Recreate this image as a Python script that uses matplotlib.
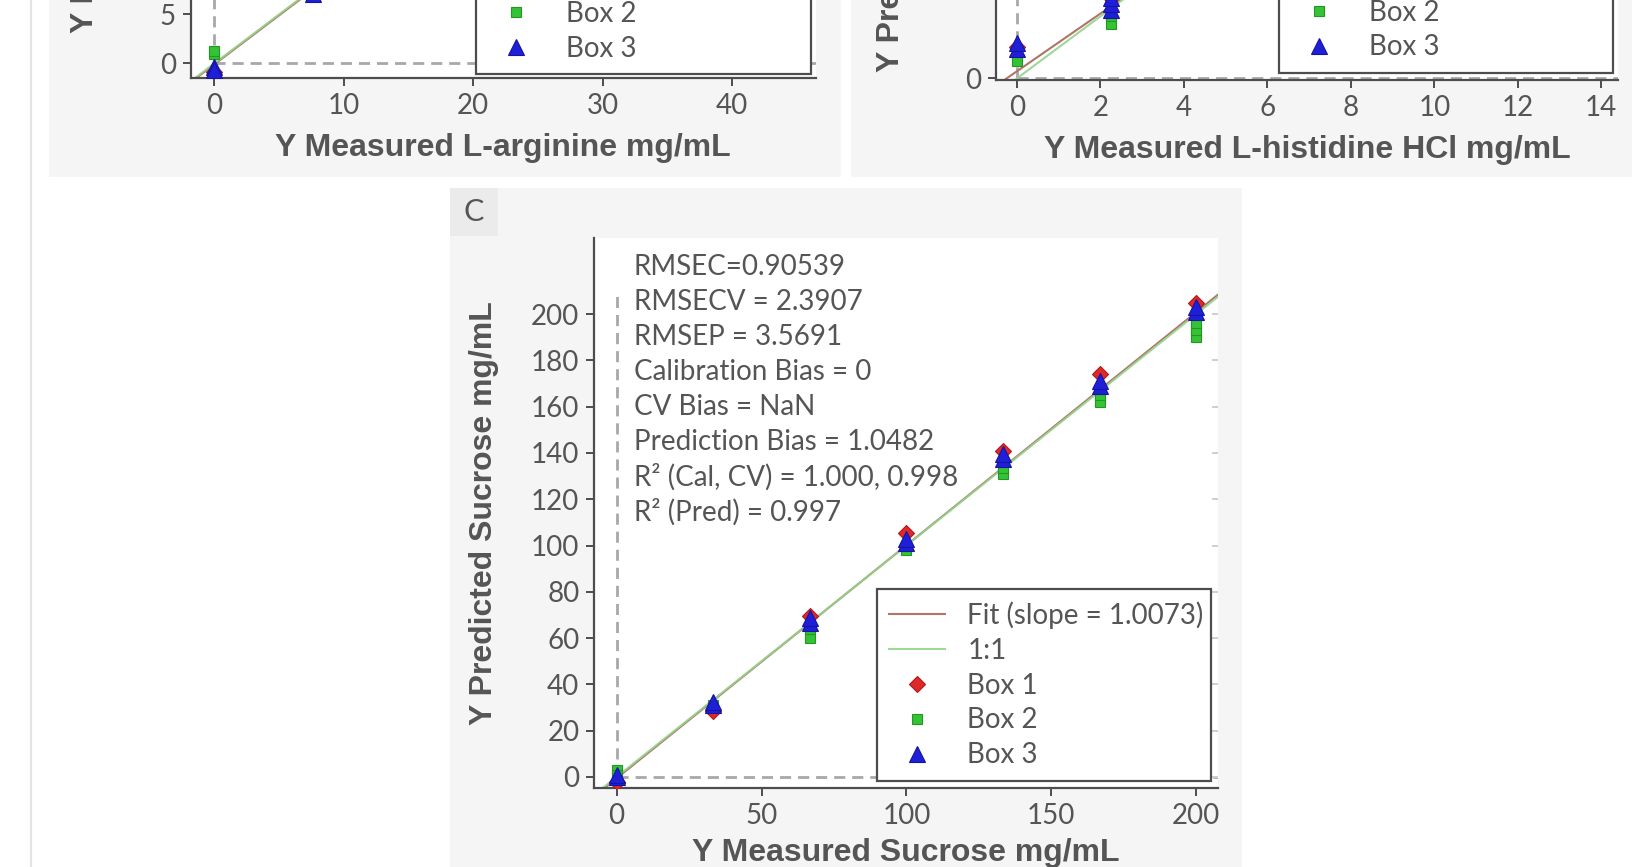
import matplotlib
matplotlib.use("Agg")
import matplotlib.pyplot as plt
from matplotlib.patches import Rectangle
from matplotlib.lines import Line2D, TICKLEFT

W, H = 1632, 867

LIGHT = ["Lato", "DejaVu Sans"]
BOLD = ["Liberation Sans", "DejaVu Sans"]
TEXT = "#555555"
SPINE = "#4d4d4d"
PANEL = "#f5f5f5"
LABEL_BOX = "#ebebeb"
DASH = "#a8a8a8"
FIT_C = "#b07468"
ONE_C = "#94d48c"
RED = "#e02828"
GREEN = "#36c236"
BLUE = "#1f1fd8"

# ---- panel C: sucrose ----
SUC_BOX1_X = [0, 33.3, 66.7, 100, 133.3, 166.7, 200]
SUC_BOX1_Y = [-2.0, 28.5, 69.5, 105.5, 141.0, 174.0, 205.0]
SUC_BOX2_X = [0, 0, 33.3, 66.7, 66.7, 100, 100, 133.3, 133.3, 166.7, 166.7, 200, 200, 200]
SUC_BOX2_Y = [3.0, 1.0, 31.0, 60.0, 64.0, 98.0, 100.0, 131.0, 133.5, 162.0, 165.0, 190.0, 193.0, 196.0]
SUC_BOX3_X = [0, 0, 33.3, 33.3, 66.7, 66.7, 100, 100, 133.3, 133.3, 166.7, 166.7, 200, 200]
SUC_BOX3_Y = [0.0, 1.0, 31.0, 32.5, 66.5, 68.5, 101.0, 103.0, 137.5, 139.5, 169.0, 171.0, 201.0, 203.0]
SUC_SLOPE = 1.0073
SUC_INTERCEPT = -0.6
SUC_DASH_END = 208
SUC_STATS = [
    "RMSEC=0.90539",
    "RMSECV = 2.3907",
    "RMSEP = 3.5691",
    "Calibration Bias = 0",
    "CV Bias = NaN",
    "Prediction Bias = 1.0482",
    "R² (Cal, CV) = 1.000, 0.998",
    "R² (Pred) = 0.997",
]

# ---- panel A: L-arginine (top left, cropped) ----
ARG_BOX1_X = [0, 7.6]
ARG_BOX1_Y = [-0.9, 7.5]
ARG_BOX2_X = [0, 0]
ARG_BOX2_Y = [0.9, 1.3]
ARG_BOX3_X = [0, 0, 7.6]
ARG_BOX3_Y = [-0.4, -0.7, 7.1]
ARG_SLOPE = 1.0
ARG_INTERCEPT = -0.1
ARG_DASH_END = 47

# ---- panel B: L-histidine HCl (top right, cropped) ----
HIS_BOX1_X = [0, 2.25]
HIS_BOX1_Y = [1.0, 2.6]
HIS_BOX2_X = [0, 2.25, 2.25]
HIS_BOX2_Y = [0.55, 1.75, 2.0]
HIS_BOX3_X = [0, 0, 2.25, 2.25, 2.25]
HIS_BOX3_Y = [0.95, 1.15, 2.2, 2.4, 2.6]
HIS_SLOPE = 0.93
HIS_INTERCEPT = 0.23
HIS_DASH_END = 15


def px_rect(x0, y0, x1, y1):
    """pixel box (y measured from the top) -> figure fraction rect"""
    return [x0 / W, 1 - y1 / H, (x1 - x0) / W, (y1 - y0) / H]


def style_axes(ax):
    for side in ("top", "right"):
        ax.spines[side].set_visible(False)
    for side in ("left", "bottom"):
        ax.spines[side].set_color(SPINE)
        ax.spines[side].set_linewidth(1.6)
    ax.tick_params(length=5.5, width=1.4, color=SPINE, labelcolor=TEXT,
                   labelsize=20, pad=5)
    for lab in ax.get_xticklabels() + ax.get_yticklabels():
        lab.set_family(LIGHT)
    ax.set_facecolor("white")


def draw_points(ax, b1, b2, b3):
    ax.plot(*b1, ls="none", marker="D", ms=8, mfc=RED, mec="#b01818", mew=0.8,
            label="Box 1", zorder=4)
    ax.plot(*b2, ls="none", marker="s", ms=7.5, mfc=GREEN, mec="#1f9a1f", mew=0.8,
            label="Box 2", zorder=4)
    ax.plot(*b3, ls="none", marker="^", ms=11.5, mfc=BLUE, mec="#1414a0", mew=0.8,
            label="Box 3", zorder=5)


def draw_lines(ax, slope, intercept, dash_end, fit_label=None):
    ax.plot([0, 0], [0, dash_end], ls=(0, (4, 2.5)), color=DASH, lw=2, zorder=1)
    ax.plot([0, dash_end], [0, 0], ls=(0, (4, 2.5)), color=DASH, lw=2, zorder=1)
    ax.axline((0, intercept), slope=slope, color=FIT_C, lw=1.5, zorder=2,
              label=fit_label)
    ax.axline((0, 0), slope=1, color=ONE_C, lw=1.5, zorder=2, alpha=0.9,
              label="1:1" if fit_label else None)


def legend(ax, x0, y0, w):
    leg = ax.legend(loc="lower left", bbox_to_anchor=(x0, y0, w, 0.1),
                    mode="expand", fancybox=False, framealpha=1,
                    edgecolor=SPINE, prop={"family": LIGHT, "size": 20},
                    labelspacing=0.32, handlelength=2.0, handletextpad=0.8,
                    borderpad=0.45, borderaxespad=0, handleheight=0.7)
    leg.get_frame().set_linewidth(1.6)
    for t in leg.get_texts():
        t.set_color(TEXT)
    leg.set_zorder(10)
    return leg


fig = plt.figure(figsize=(W / 100, H / 100), dpi=100)
fig.patch.set_facecolor("white")

# panel backgrounds
for box, col in [((49, 0, 841, 177), PANEL), ((851, 0, W, 177), PANEL),
                 ((450, 188, 1242, H), PANEL), ((450, 188, 498, 236), LABEL_BOX)]:
    x, y, w, h = px_rect(*box)
    fig.add_artist(Rectangle((x, y), w, h, transform=fig.transFigure,
                             facecolor=col, edgecolor="none", zorder=0))
fig.add_artist(Line2D([31 / W, 31 / W], [0, 1], transform=fig.transFigure,
                      color="#e4e4e4", lw=1.5))
fig.text(474 / W, 1 - 212 / H, "C", ha="center", va="center", fontsize=22,
         color=TEXT, family=LIGHT)

# ---- top left ----
ax_a = fig.add_axes(px_rect(190.5, -397, 816, 78))
draw_lines(ax_a, ARG_SLOPE, ARG_INTERCEPT, ARG_DASH_END)
draw_points(ax_a, (ARG_BOX1_X, ARG_BOX1_Y), (ARG_BOX2_X, ARG_BOX2_Y), (ARG_BOX3_X, ARG_BOX3_Y))
ax_a.set_xlim(-1.85, 46.5)
ax_a.set_ylim(-1.5, 47)
ax_a.set_xticks([0, 10, 20, 30, 40])
ax_a.set_yticks([0, 5, 10, 15, 20, 25, 30, 35, 40, 45])
style_axes(ax_a)
legend(ax_a, 0.4564, 0.0084, 0.5356)
ax_a.set_xlabel("Y Measured L-arginine mg/mL", family=BOLD, fontweight="bold",
                fontsize=23, color=TEXT)
ax_a.xaxis.set_label_coords(0.5, -55 / 475)
fig.text(85 / W, 1 - 33 / H, "Y Predicted L-arginine mg/mL", rotation=90,
         ha="center", va="bottom", family=BOLD, fontweight="bold", fontsize=23,
         color=TEXT)

# ---- top right ----
ax_b = fig.add_axes(px_rect(996, -387, 1618, 80))
draw_lines(ax_b, HIS_SLOPE, HIS_INTERCEPT, HIS_DASH_END)
draw_points(ax_b, (HIS_BOX1_X, HIS_BOX1_Y), (HIS_BOX2_X, HIS_BOX2_Y), (HIS_BOX3_X, HIS_BOX3_Y))
ax_b.set_xlim(-0.5, 14.4)
ax_b.set_ylim(-0.05, 15)
ax_b.set_xticks(range(0, 15, 2))
ax_b.set_yticks([0, 5, 10, 15])
style_axes(ax_b)
legend(ax_b, 0.455, 0.015, 0.537)
ax_b.set_xlabel("Y Measured L-histidine HCl mg/mL", family=BOLD, fontweight="bold",
                fontsize=23, color=TEXT)
ax_b.xaxis.set_label_coords(0.5, -55 / 467)
fig.text(891 / W, 1 - 72 / H, "Y Predicted L-histidine HCl mg/mL", rotation=90,
         ha="center", va="bottom", family=BOLD, fontweight="bold", fontsize=23,
         color=TEXT)

# ---- panel C ----
ax = fig.add_axes(px_rect(594, 238, 1218, 788))
draw_lines(ax, SUC_SLOPE, SUC_INTERCEPT, SUC_DASH_END,
           fit_label=f"Fit (slope = {SUC_SLOPE})")
draw_points(ax, (SUC_BOX1_X, SUC_BOX1_Y), (SUC_BOX2_X, SUC_BOX2_Y), (SUC_BOX3_X, SUC_BOX3_Y))
ax.set_xlim(-7.8, 207.5)
ax.set_ylim(-4.8, 232.9)
ax.set_xticks([0, 50, 100, 150, 200])
ax.set_yticks(range(0, 201, 20))
style_axes(ax)
legend(ax, 0.4535, 0.013, 0.5355)
ax.set_xlabel("Y Measured Sucrose mg/mL", family=BOLD, fontweight="bold",
              fontsize=23, color=TEXT)
ax.xaxis.set_label_coords(0.5, -0.09)
ax.set_ylabel("Y Predicted Sucrose mg/mL", family=BOLD, fontweight="bold",
              fontsize=23, color=TEXT)
ax.yaxis.set_label_coords(-0.152, 0.5)

# faint inner ticks along the right edge
ax.tick_params(axis="y", right=True)
for t in ax.yaxis.get_major_ticks():
    t.tick2line.set_marker(TICKLEFT)
    t.tick2line.set_markeredgecolor("#cfcfcf")
    t.tick2line.set_markersize(4)

for i, line in enumerate(SUC_STATS):
    ax.text(0.064, 0.948 - i * 0.0638, line, transform=ax.transAxes,
            ha="left", va="center", fontsize=20, color=TEXT, family=LIGHT)

fig.savefig("out.png", dpi=100)
